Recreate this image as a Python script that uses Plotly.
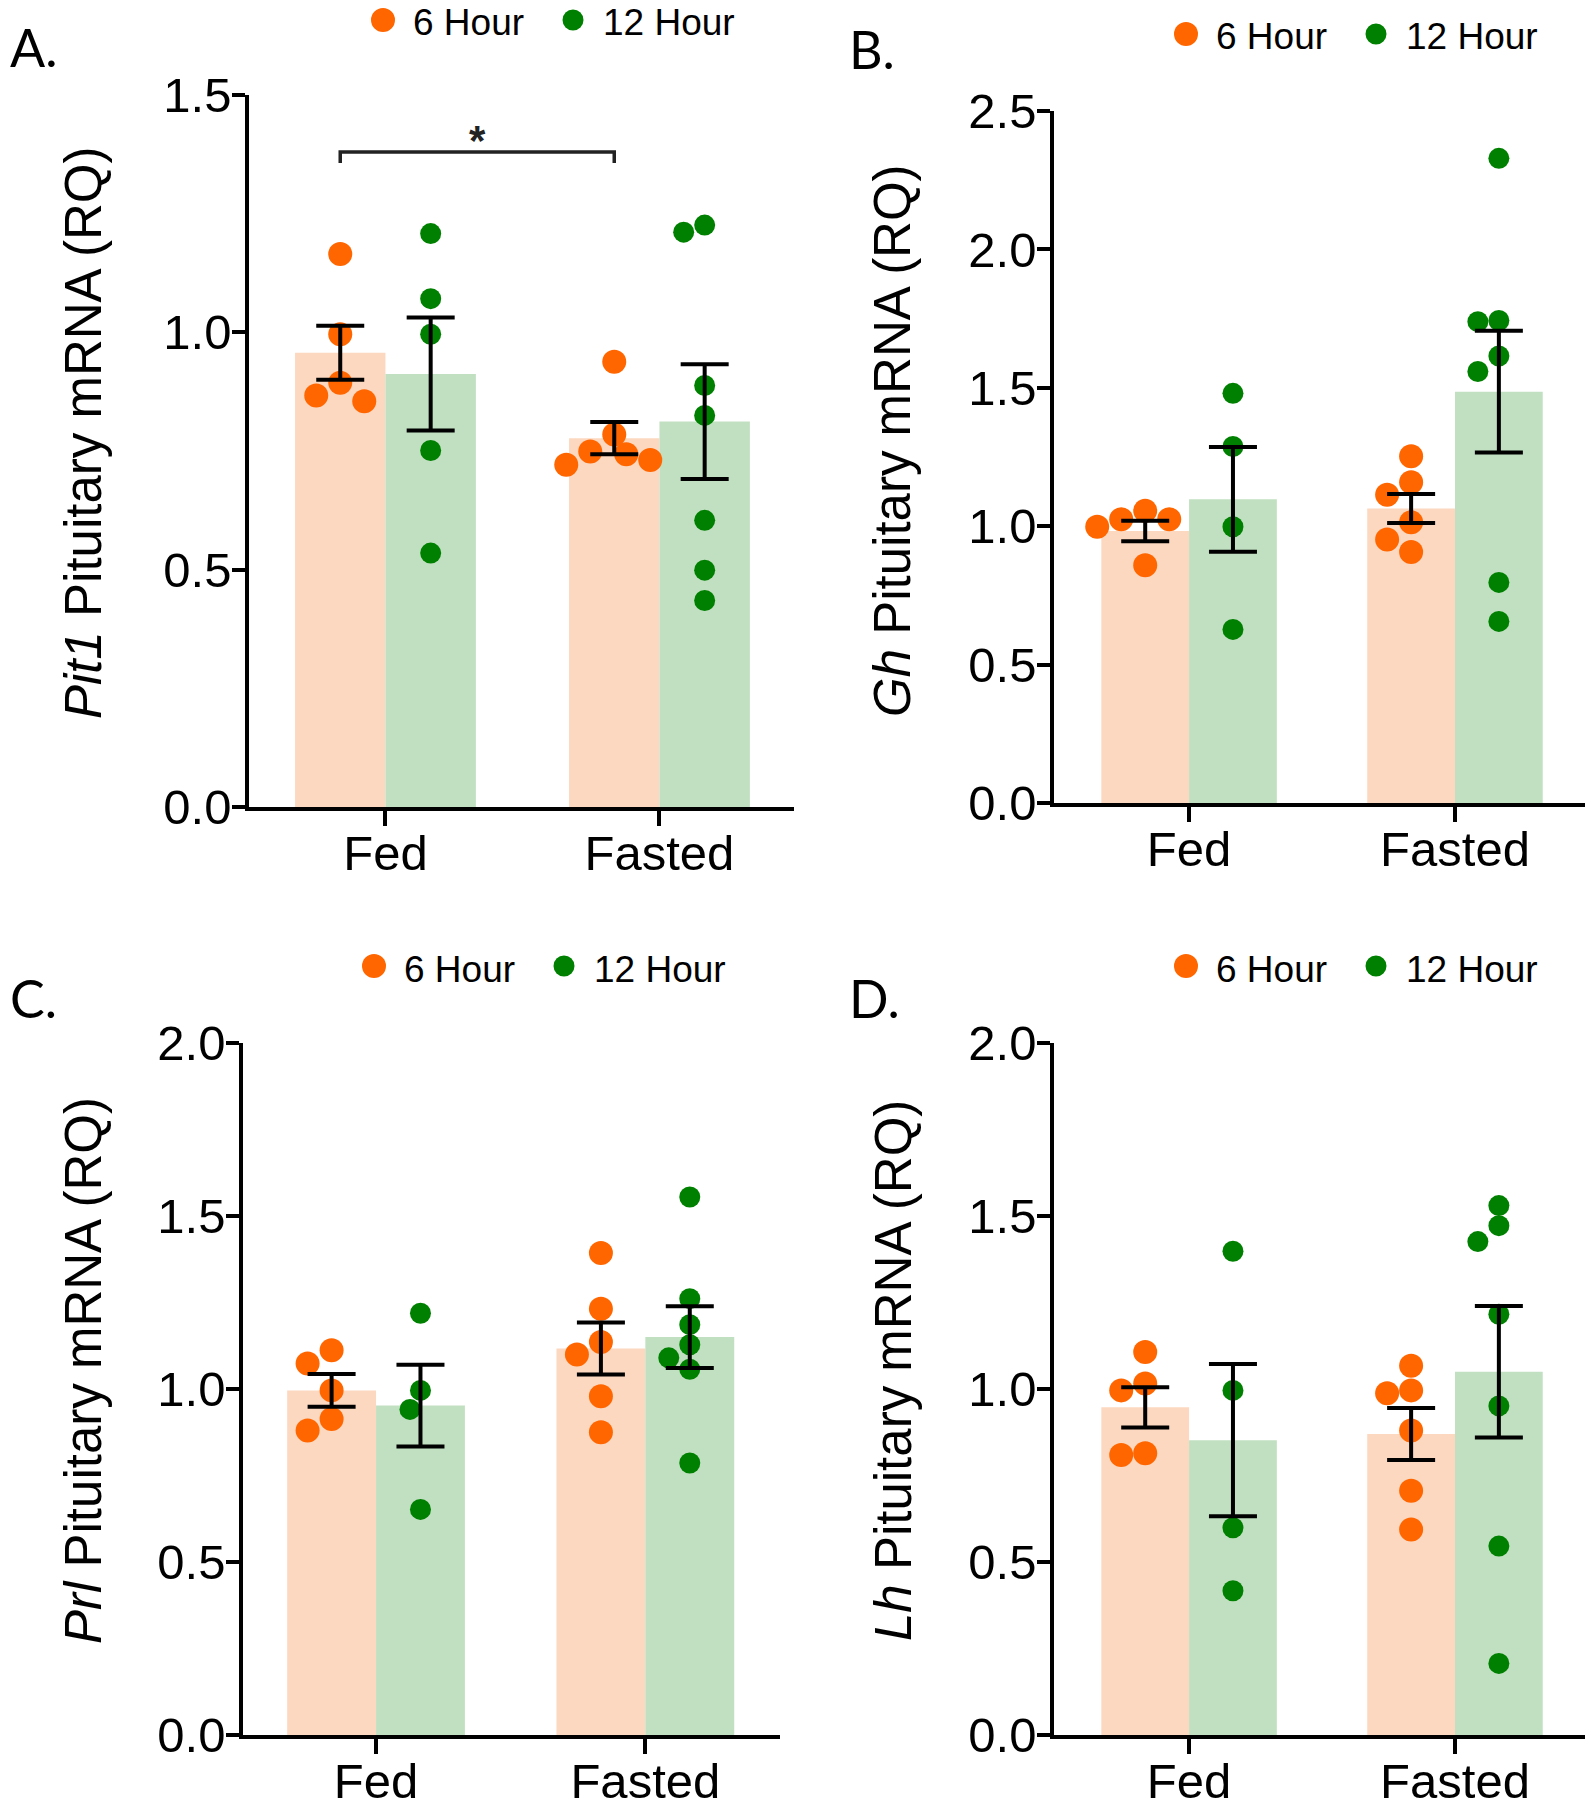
import plotly.graph_objects as go

W, H = 1593, 1800
PAGE_MARGIN = 8  # the browser's default body margin moves the whole figure by this much

GROUPS = ["Fed", "Fasted"]
SERIES = ["6 Hour", "12 Hour"]

# individual samples per group [Fed, Fasted], RQ
PIT1_6H = [[1.165, 0.996, 0.894, 0.867, 0.855], [0.938, 0.785, 0.749, 0.743, 0.731, 0.721]]
PIT1_12H = [[1.208, 1.071, 0.996, 0.751, 0.535], [1.226, 1.211, 0.888, 0.825, 0.604, 0.499, 0.435]]
PIT1_MEAN_6H = [0.957, 0.777]
PIT1_SEM_6H = [0.057, 0.034]
PIT1_MEAN_12H = [0.912, 0.812]
PIT1_SEM_12H = [0.119, 0.121]

GH_6H = [[1.056, 1.025, 1.025, 0.998, 0.859], [1.253, 1.159, 1.114, 1.014, 0.952, 0.907]]
GH_12H = [[1.480, 1.288, 0.998, 0.627], [2.329, 1.743, 1.739, 1.615, 1.559, 0.797, 0.656]]
GH_MEAN_6H = [0.983, 1.064]
GH_SEM_6H = [0.037, 0.052]
GH_MEAN_12H = [1.097, 1.486]
GH_SEM_12H = [0.189, 0.220]

PRL_6H = [[1.112, 1.074, 0.996, 0.913, 0.880], [1.393, 1.232, 1.136, 1.100, 0.979, 0.875]]
PRL_12H = [[1.219, 0.996, 0.941, 0.652], [1.555, 1.261, 1.186, 1.128, 1.090, 1.057, 0.786]]
PRL_MEAN_6H = [0.996, 1.117]
PRL_SEM_6H = [0.047, 0.075]
PRL_MEAN_12H = [0.952, 1.150]
PRL_SEM_12H = [0.118, 0.089]

LH_6H = [[1.107, 1.016, 0.996, 0.814, 0.809], [1.067, 0.996, 0.988, 0.880, 0.706, 0.594]]
LH_12H = [[1.398, 0.996, 0.599, 0.417], [1.530, 1.472, 1.426, 1.216, 0.951, 0.546, 0.207]]
LH_MEAN_6H = [0.947, 0.870]
LH_SEM_6H = [0.058, 0.075]
LH_MEAN_12H = [0.852, 1.050]
LH_SEM_12H = [0.220, 0.190]

# significance bracket in panel A (6 Hour, Fed vs Fasted)
SIG_Y = 1.38
SIG_LABEL = "*"

FONT = "Liberation Sans, Arial, sans-serif"
DOT = ["#FF6600", "#008000"]
BAR = ["#FCD8C0", "#C1E0C1"]
DOT_SIZE = [24, 21]
BAR_W = 0.33
OFFS = [-BAR_W / 2, BAR_W / 2]

# panel geometry in pixels of the 1593x1800 page
PANELS = [
    dict(label="A.", gene="Pit1", ymax=1.5, left=249, right=794, top=95, bottom=807,
         xr=[-0.498, 1.491], lab=(2, 14), leg=(383, 20), ttl=(83, 433),
         data=(PIT1_6H, PIT1_12H, PIT1_MEAN_6H, PIT1_SEM_6H, PIT1_MEAN_12H, PIT1_SEM_12H)),
    dict(label="B.", gene="Gh", ymax=2.5, left=1054, right=1593, top=111, bottom=803,
         xr=[-0.508, 1.519], lab=(847, 16), leg=(1186, 34), ttl=(893, 441),
         data=(GH_6H, GH_12H, GH_MEAN_6H, GH_SEM_6H, GH_MEAN_12H, GH_SEM_12H)),
    dict(label="C.", gene="Prl", ymax=2.0, left=243, right=780, top=1043, bottom=1735,
         xr=[-0.494, 1.50], lab=(2, 965), leg=(374, 966), ttl=(83, 1371),
         data=(PRL_6H, PRL_12H, PRL_MEAN_6H, PRL_SEM_6H, PRL_MEAN_12H, PRL_SEM_12H)),
    dict(label="D.", gene="Lh", ymax=2.0, left=1054, right=1593, top=1043, bottom=1735,
         xr=[-0.508, 1.519], lab=(847, 965), leg=(1186, 966), ttl=(893, 1371),
         data=(LH_6H, LH_12H, LH_MEAN_6H, LH_SEM_6H, LH_MEAN_12H, LH_SEM_12H)),
]


def px(x):
    return max(x - PAGE_MARGIN, 0) / W


def py(y):
    return 1 - (y - PAGE_MARGIN) / H


def swarm(values, ppx, ppy, diam):
    """Greedy beeswarm: returns x offsets (data units) so dots don't pile up."""
    cands = [0.0]
    for k in range(1, 14):
        cands += [-k * diam / 2, k * diam / 2]
    placed = []
    res = [0.0] * len(values)
    for i in sorted(range(len(values)), key=lambda j: -values[j]):
        y = values[i] * ppy
        for c in cands:
            if all((c - a) ** 2 + (y - b) ** 2 >= (0.95 * diam) ** 2 for a, b in placed):
                break
        placed.append((c, y))
        res[i] = c / ppx
    return res


fig = go.Figure()
shapes, annotations = [], []

for n, p in enumerate(PANELS, start=1):
    xa, ya = ("x", "y") if n == 1 else (f"x{n}", f"y{n}")
    pts = p["data"][:2]
    means = (p["data"][2], p["data"][4])
    sems = (p["data"][3], p["data"][5])
    ppx = (p["right"] - p["left"]) / (p["xr"][1] - p["xr"][0])
    ppy = (p["bottom"] - p["top"]) / p["ymax"]

    for s in range(2):
        xs = [g + OFFS[s] for g in range(len(GROUPS))]
        fig.add_trace(go.Bar(x=xs, y=means[s], width=BAR_W, marker=dict(color=BAR[s], line=dict(width=0)),
                             xaxis=xa, yaxis=ya, showlegend=False, hoverinfo="skip"))

    for s in range(2):
        dx, dy = [], []
        for g, vals in enumerate(pts[s]):
            off = swarm(vals, ppx, ppy, DOT_SIZE[s])
            dx += [g + OFFS[s] + o for o in off]
            dy += vals
        fig.add_trace(go.Scatter(x=dx, y=dy, mode="markers", name=SERIES[s],
                                 marker=dict(color=DOT[s], size=DOT_SIZE[s], line=dict(width=0)),
                                 xaxis=xa, yaxis=ya, showlegend=False))

    for s in range(2):
        xs = [g + OFFS[s] for g in range(len(GROUPS))]
        fig.add_trace(go.Scatter(x=xs, y=means[s], mode="markers",
                                 marker=dict(size=2, color="rgba(0,0,0,0)"),
                                 error_y=dict(type="data", array=sems[s], color="black", thickness=4, width=24),
                                 xaxis=xa, yaxis=ya, showlegend=False, hoverinfo="skip"))

    if n == 1:
        tk = 11 / ppy
        x0, x1 = 0 + OFFS[0], 1 + OFFS[0]
        fig.add_trace(go.Scatter(x=[x0, x0, x1, x1], y=[SIG_Y - tk, SIG_Y, SIG_Y, SIG_Y - tk], mode="lines",
                                 line=dict(color="#222222", width=3.5), xaxis=xa, yaxis=ya,
                                 showlegend=False, hoverinfo="skip"))
        annotations.append(dict(x=(x0 + x1) / 2, y=SIG_Y, xref=xa, yref=ya, text=f"<b>{SIG_LABEL}</b>",
                                showarrow=False, yanchor="bottom", yshift=-14,
                                font=dict(family=FONT, size=42, color="#222")))

    axis_common = dict(showline=True, linewidth=3.5, linecolor="black", ticks="outside",
                       tickwidth=3.5, tickcolor="black", showgrid=False, zeroline=False, automargin=False,
                       tickfont=dict(family=FONT, size=49, color="black"))
    fig.update_layout({
        ("xaxis" if n == 1 else f"xaxis{n}"): dict(
            axis_common, domain=[px(p["left"]), px(p["right"])], range=p["xr"], anchor=ya,
            tickvals=list(range(len(GROUPS))), ticktext=GROUPS, ticklen=15, ticklabelstandoff=-15,
            fixedrange=True),
        ("yaxis" if n == 1 else f"yaxis{n}"): dict(
            axis_common, domain=[py(p["bottom"]), py(p["top"])], range=[0, p["ymax"]], anchor=xa,
            dtick=0.5, tick0=0, tickformat=".1f", ticklen=13, ticklabelstandoff=-9, fixedrange=True),
    })

    # panel letter and y title
    annotations.append(dict(x=px(p["lab"][0]), y=py(p["lab"][1]), xref="paper", yref="paper", text=p["label"],
                            showarrow=False, xanchor="left", yanchor="top",
                            font=dict(family="Lato, " + FONT, size=52, color="black")))
    annotations.append(dict(x=px(p["ttl"][0]), y=py(p["ttl"][1]), xref="paper", yref="paper",
                            text=f"<i>{p['gene']}</i> Pituitary mRNA (RQ)", textangle=-90, showarrow=False,
                            xanchor="center", yanchor="middle", font=dict(family=FONT, size=51, color="black")))

    # legend row above the panel
    lx, ly = p["leg"]
    for s, dxp in enumerate([0, 190]):
        r = DOT_SIZE[s] / 2
        shapes.append(dict(type="circle", xref="paper", yref="paper", xsizemode="pixel", ysizemode="pixel",
                           xanchor=px(lx + dxp), yanchor=py(ly), x0=-r, x1=r, y0=-r, y1=r,
                           fillcolor=DOT[s], line=dict(width=0)))
        annotations.append(dict(x=px(lx + dxp + 28), y=py(ly + 3), xref="paper", yref="paper", text=SERIES[s],
                                showarrow=False, xanchor="left", yanchor="middle",
                                font=dict(family=FONT, size=37, color="black")))

fig.update_layout(width=W, height=H, margin=dict(l=0, r=0, t=0, b=0, pad=0, autoexpand=False),
                  plot_bgcolor="white", paper_bgcolor="white", barmode="overlay", showlegend=False,
                  shapes=shapes, annotations=annotations)

fig.write_html("out.html")
